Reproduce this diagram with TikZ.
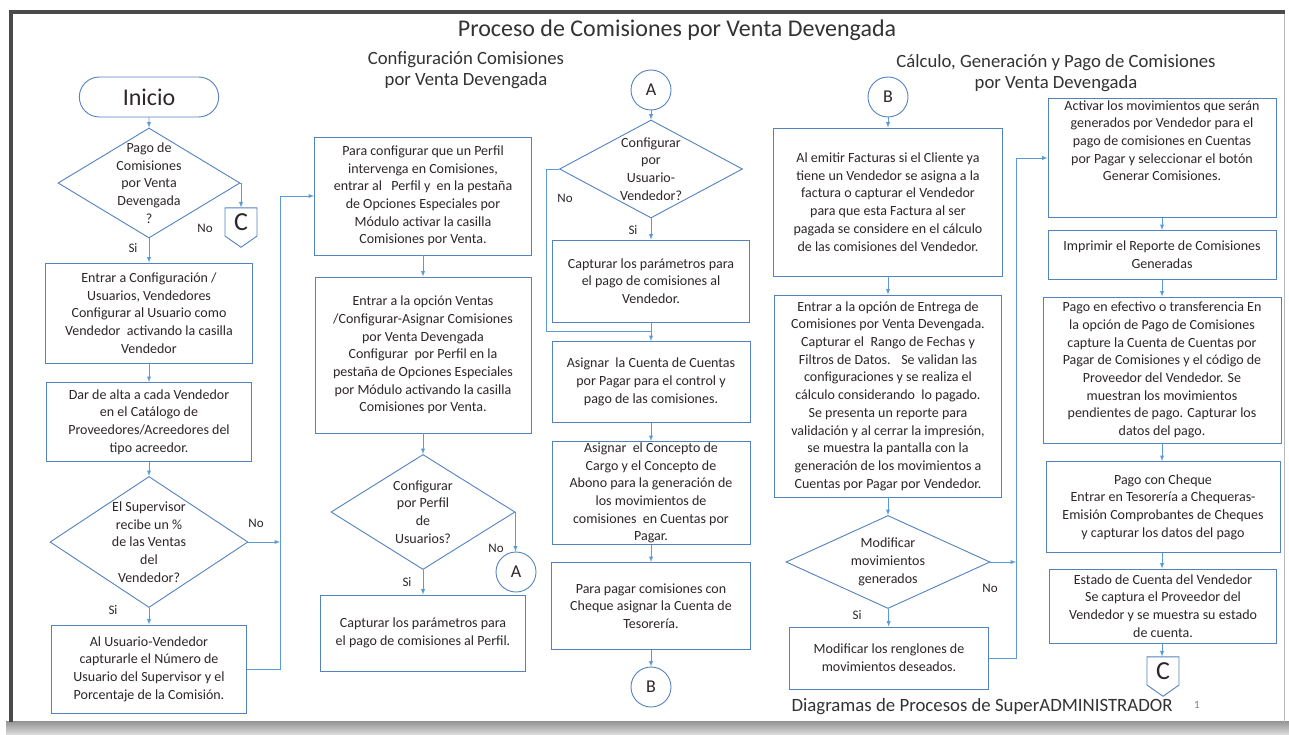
\documentclass[tikz,border=0pt]{standalone}
\usepackage{fontspec}
\setmainfont{Carlito}
\usetikzlibrary{positioning,arrows,calc,shapes.geometric,shapes.misc,shapes.symbols}

\definecolor{bordeazul}{RGB}{84,130,190}
\definecolor{flechaazul}{RGB}{91,155,213}
\definecolor{textogris}{RGB}{45,38,42}
\definecolor{marcogris}{RGB}{75,75,75}
\newcommand{\txtcaja}{\fontsize{14}{17.7}\selectfont}

\begin{document}
\begin{tikzpicture}[x=1pt,y=-1pt,
  caja/.style={draw=bordeazul,line width=0.9pt,fill=white,align=center,text=textogris,font=\txtcaja,inner sep=1pt},
  rombo/.style={diamond,draw=bordeazul,line width=0.9pt,inner sep=0pt},
  rtexto/.style={align=center,text=textogris,font=\txtcaja},
  conector/.style={circle,draw=bordeazul,line width=0.9pt,minimum size=40pt,inner sep=0pt,text=textogris,font=\fontsize{18}{20}\selectfont},
  pagina/.style={signal,signal to=south,signal pointer angle=110,draw=bordeazul,line width=0.9pt,minimum width=32pt,minimum height=33pt,inner sep=0pt,text=textogris,font=\fontsize{26}{28}\selectfont},
  flecha/.style={draw=flechaazul,line width=0.9pt,-latex},
  linea/.style={draw=flechaazul,line width=0.9pt},
  etiq/.style={text=textogris,font=\fontsize{13}{15}\selectfont,inner sep=1pt},
  titulo/.style={text=black!80,align=center}
]
\useasboundingbox (0,0) rectangle (1289,735);
\fill[white] (0,0) rectangle (1289,735);
% marco de la pagina
\shade[top color=gray!85,bottom color=gray!25] (6,721) rectangle (1289,735);
\draw[gray!55,line width=1pt] (1284,12) -- (1284,722);
\draw[marcogris,line width=4pt] (10.5,722) -- (10.5,12) -- (1285,12);

% titulos
\node[titulo,font=\fontsize{24}{27}\selectfont] (tit) at (677,30) {Proceso de Comisiones por Venta Devengada};
\node[titulo,font=\fontsize{18.7}{21.5}\selectfont] (sub1) at (466,70) {Configuración Comisiones\\por Venta Devengada};
\node[titulo,font=\fontsize{18.7}{21.5}\selectfont] (sub2) at (1056,73) {Cálculo, Generación y Pago de Comisiones\\por Venta Devengada};
\node[titulo,font=\fontsize{18.8}{21}\selectfont,anchor=west] (pie) at (788,707) {Diagramas de Procesos de SuperADMINISTRADOR};
\node[text=gray,font=\fontsize{11}{13}\selectfont] (num) at (1197,705) {1};

% columna 1
\node[rounded rectangle,draw=bordeazul,line width=0.9pt,minimum width=146pt,minimum height=40pt,text=textogris,font=\fontsize{24}{28}\selectfont] (inicio) at (149,97) {Inicio};
\node[rombo,minimum width=182pt,minimum height=110pt,label={[rtexto]center:{Pago de\\Comisiones\\por Venta\\Devengada\\?}}] (d1) at (149,183) {};
\node[pagina] (c1) at (241,222) {C};
\node[caja,minimum width=207pt,minimum height=100pt] (b1) at (149,313) {Entrar a Configuración /\\Usuarios, Vendedores\\Configurar al Usuario como\\Vendedor\ \ activando la casilla\\Vendedor};
\node[caja,minimum width=205pt,minimum height=79pt] (b2) at (149,422) {Dar de alta a cada Vendedor\\en el Catálogo de\\Proveedores/Acreedores del\\tipo acreedor.};
\node[rombo,minimum width=198pt,minimum height=131pt,label={[rtexto]center:{El Supervisor\\recibe un \%\\de las Ventas\\del\\Vendedor?}}] (d2) at (149,542) {};
\node[caja,minimum width=195pt,minimum height=88pt] (b3) at (149,669) {Al Usuario-Vendedor\\capturarle el Número de\\Usuario del Supervisor y el\\Porcentaje de la Comisión.};
\node[etiq] (no1) at (205,228) {No};
\node[etiq] (si1) at (133,248) {Si};
\node[etiq] (no2) at (256,523) {No};
\node[etiq] (si2) at (113,610) {Si};
\coordinate (bus1) at (280,196);

% columna 2
\node[caja,minimum width=217pt,minimum height=118pt] (p1) at (423,196) {Para configurar que un Perfil\\intervenga en Comisiones,\\entrar al \ \ Perfil y \ en la pestaña\\de Opciones Especiales por\\Módulo activar la casilla\\Comisiones por Venta.};
\node[caja,minimum width=216pt,minimum height=156pt] (p2) at (423,355) {Entrar a la opción Ventas\\/Configurar-Asignar Comisiones\\por Venta Devengada\\Configurar \ por Perfil en la\\pestaña de Opciones Especiales\\por Módulo activando la casilla\\Comisiones por Venta.};
\node[rombo,minimum width=184pt,minimum height=115pt,label={[rtexto]center:{Configurar\\por Perfil\\de\\Usuarios?}}] (dp) at (423,512) {};
\node[conector] (a2) at (516,572) {A};
\node[caja,minimum width=205pt,minimum height=76pt] (p3) at (423,633) {Capturar los parámetros para\\el pago de comisiones al Perfil.};
\node[etiq] (no3) at (496,548) {No};
\node[etiq] (si3) at (407,582) {Si};

% columna 3
\node[conector] (a1) at (651,90) {A};
\node[rombo,minimum width=183pt,minimum height=98pt,label={[rtexto]center:{Configurar\\por\\Usuario-\\Vendedor?}}] (da) at (651,169) {};
\node[caja,minimum width=197pt,minimum height=82pt] (v1) at (651,281) {Capturar los parámetros para\\el pago de comisiones al\\Vendedor.};
\node[caja,minimum width=198pt,minimum height=81pt] (v2) at (651,382) {Asignar \ la Cuenta de Cuentas\\por Pagar para el control y\\pago de las comisiones.};
\node[caja,minimum width=198pt,minimum height=103pt] (v3) at (651,493) {Asignar \ el Concepto de\\Cargo y el Concepto de\\Abono para la generación de\\los movimientos de\\comisiones \ en Cuentas por\\Pagar.};
\node[caja,minimum width=199pt,minimum height=87pt] (v4) at (651,606) {Para pagar comisiones con\\Cheque asignar la Cuenta de\\Tesorería.};
\node[conector] (b1c) at (651,687) {B};
\node[etiq] (no4) at (565,198) {No};
\node[etiq] (si4) at (633,230) {Si};
\coordinate (union) at (651,331);

% columna 4
\node[conector] (b2c) at (888,97) {B};
\node[caja,minimum width=229pt,minimum height=148pt] (f1) at (888,202) {Al emitir Facturas si el Cliente ya\\tiene un Vendedor se asigna a la\\factura o capturar el Vendedor\\para que esta Factura al ser\\pagada se considere en el cálculo\\de las comisiones del Vendedor.};
\node[caja,minimum width=227pt,minimum height=202pt] (f2) at (888,396) {Entrar a la opción de Entrega de\\Comisiones por Venta Devengada.\\Capturar el \ Rango de Fechas y\\Filtros de Datos. \ \ Se validan las\\configuraciones y se realiza el\\cálculo considerando \ lo pagado.\\Se presenta un reporte para\\validación y al cerrar la impresión,\\se muestra la pantalla con la\\generación de los movimientos a\\Cuentas por Pagar por Vendedor.};
\node[rombo,minimum width=204pt,minimum height=93pt,label={[rtexto]center:{Modificar\\movimientos\\generados}}] (dm) at (888,562) {};
\node[caja,minimum width=199pt,minimum height=62pt] (m1) at (889,658) {Modificar los renglones de\\movimientos deseados.};
\node[etiq] (no5) at (990,588) {No};
\node[etiq] (si5) at (857,615) {Si};
\coordinate (bus2) at (1016,158);

% columna 5
\node[caja,minimum width=228pt,minimum height=119pt] (g1) at (1162,158) {Activar los movimientos que serán\\generados por Vendedor para el\\pago de comisiones en Cuentas\\por Pagar y seleccionar el botón\\Generar Comisiones.\\[17pt]};
\node[caja,minimum width=228pt,minimum height=49pt] (g2) at (1162,255) {Imprimir el Reporte de Comisiones\\Generadas};
\node[caja,minimum width=238pt,minimum height=146pt] (g3) at (1162,370) {Pago en efectivo o transferencia En\\la opción de Pago de Comisiones\\capture la Cuenta de Cuentas por\\Pagar de Comisiones y el código de\\Proveedor del Vendedor. Se\\muestran los movimientos\\pendientes de pago. Capturar los\\datos del pago.};
\node[caja,minimum width=234pt,minimum height=91pt] (g4) at (1163,507) {Pago con Cheque\\Entrar en Tesorería a Chequeras-\\Emisión Comprobantes de Cheques\\y capturar los datos del pago};
\node[caja,minimum width=227pt,minimum height=74pt] (g5) at (1163,606) {Estado de Cuenta del Vendedor\\Se captura el Proveedor del\\Vendedor y se muestra su estado\\de cuenta.};
\node[pagina] (c2) at (1163,671) {C};

% flechas
\foreach \a/\b in {inicio/d1,d1/b1,b1/b2,b2/d2,d2/b3,p1/p2,p2/dp,dp/p3,a1/da,da/v1,v1/v2,v2/v3,v3/v4,v4/b1c,b2c/f1,f1/f2,f2/dm,dm/m1,g1/g2,g2/g3}
  \draw[flecha] (\a) -- (\b);
\foreach \a/\b in {g3/g4,g4/g5,g5/c2}
  \draw[flecha] (\a.south -| 1162,0) -- (\b.north -| 1162,0);
\draw[flecha] (d1.east) -| (c1.north);
\draw[flecha] (d2.east) -- (d2.east -| bus1);
\draw[flecha] (b3.east) -| (bus1) -- (p1.west);
\draw[flecha] (dp.east) -- (dp.east |- a2.north);
\draw[linea] (da.west) -- ++(-13,0) |- (union);
\draw[flecha] (dm.east) -- (dm.east -| bus2);
\draw[flecha] (m1.east) -| (bus2) -- (g1.west);
\end{tikzpicture}
\end{document}
